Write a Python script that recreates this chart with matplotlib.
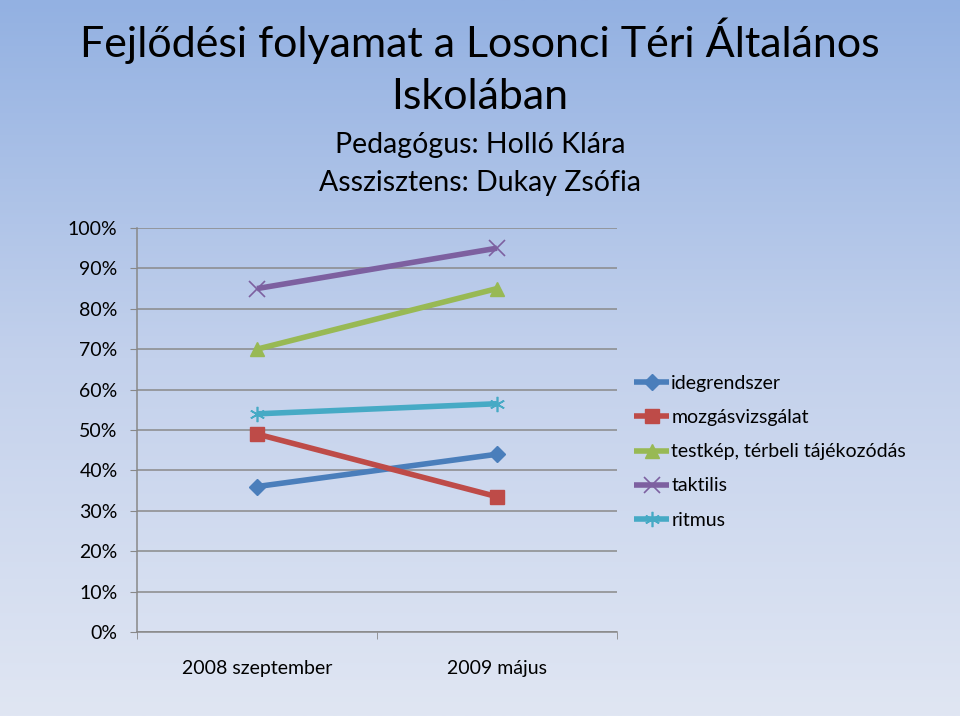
import numpy as np
import matplotlib
matplotlib.use("Agg")
import matplotlib.pyplot as plt
from matplotlib.colors import LinearSegmentedColormap

plt.rcParams['font.family'] = ['Lato', 'DejaVu Sans']

categories = ["2008 szeptember", "2009 május"]
series_names = ["idegrendszer", "mozgásvizsgálat", "testkép, térbeli tájékozódás", "taktilis", "ritmus"]
idegrendszer = [36, 44]
mozgasvizsgalat = [49, 33.5]
testkep = [70, 85]
taktilis = [85, 95]
ritmus = [54, 56.5]
yticks = [0, 10, 20, 30, 40, 50, 60, 70, 80, 90, 100]
ytick_labels = ["0%", "10%", "20%", "30%", "40%", "50%", "60%", "70%", "80%", "90%", "100%"]

series = [idegrendszer, mozgasvizsgalat, testkep, taktilis, ritmus]
colors = ["#4a7ebb", "#be4b48", "#98b954", "#7d60a0", "#46aac5"]
markers = ["D", "s", "^", "x", (6, 2, 0)]
msizes = [8, 10, 10, 11, 11]

fig = plt.figure(figsize=(9.6, 7.16), dpi=100)

# gradient background
bg = fig.add_axes([0, 0, 1, 1], zorder=-10)
cmap = LinearSegmentedColormap.from_list("bg", ["#93b1e2", "#c3d1ec", "#e0e6f3"])
grad = np.linspace(0, 1, 256).reshape(-1, 1)
bg.imshow(grad, aspect="auto", cmap=cmap, extent=[0, 1, 0, 1], origin="upper")
bg.set_axis_off()

ax = fig.add_axes([0.1427, 0.1173, 0.5, 0.5643])
ax.patch.set_alpha(0)
x = np.arange(len(categories))
for name, vals, c, m, ms in zip(series_names, series, colors, markers, msizes):
    if m in ("x",) or isinstance(m, tuple):
        ax.plot(x, vals, color=c, lw=4, marker=m, ms=ms, mew=1.2, mec=c, label=name, solid_capstyle="butt")
    else:
        ax.plot(x, vals, color=c, lw=4, marker=m, ms=ms, mfc=c, mec=c, label=name, solid_capstyle="butt")

ax.set_xlim(-0.5, 1.5)
ax.set_ylim(0, 100)
ax.set_yticks(yticks)
ax.set_yticklabels(ytick_labels)
ax.set_xticks(x)
ax.set_xticklabels(categories)
ax.set_xticks([-0.5, 0.5, 1.5], minor=True)
ax.tick_params(axis="x", which="major", length=0, pad=20, labelsize=14)
ax.tick_params(axis="x", which="minor", length=5, color="#888888", direction="out")
ax.tick_params(axis="y", length=5, color="#888888", direction="out", labelsize=14, pad=9)
ax.grid(axis="y", color="#8a8a8a", lw=1.1)
ax.set_axisbelow(True)
for s in ["top", "right"]:
    ax.spines[s].set_visible(False)
for s in ["left", "bottom"]:
    ax.spines[s].set_color("#888888")
    ax.spines[s].set_linewidth(1.1)

leg = ax.legend(loc="upper left", bbox_to_anchor=(1.02, 0.655), frameon=False, fontsize=14,
                handlelength=1.8, handletextpad=0.1, labelspacing=0.88, borderaxespad=0)

fig.text(0.5, 0.943, "Fejlődési folyamat a Losonci Téri Általános", ha="center", va="center", fontsize=31)
fig.text(0.5, 0.865, "Iskolában", ha="center", va="center", fontsize=31)
fig.text(0.5, 0.797, "Pedagógus: Holló Klára", ha="center", va="center", fontsize=20.5)
fig.text(0.5, 0.744, "Asszisztens: Dukay Zsófia", ha="center", va="center", fontsize=20.5)

fig.savefig("out.png", dpi=100)
